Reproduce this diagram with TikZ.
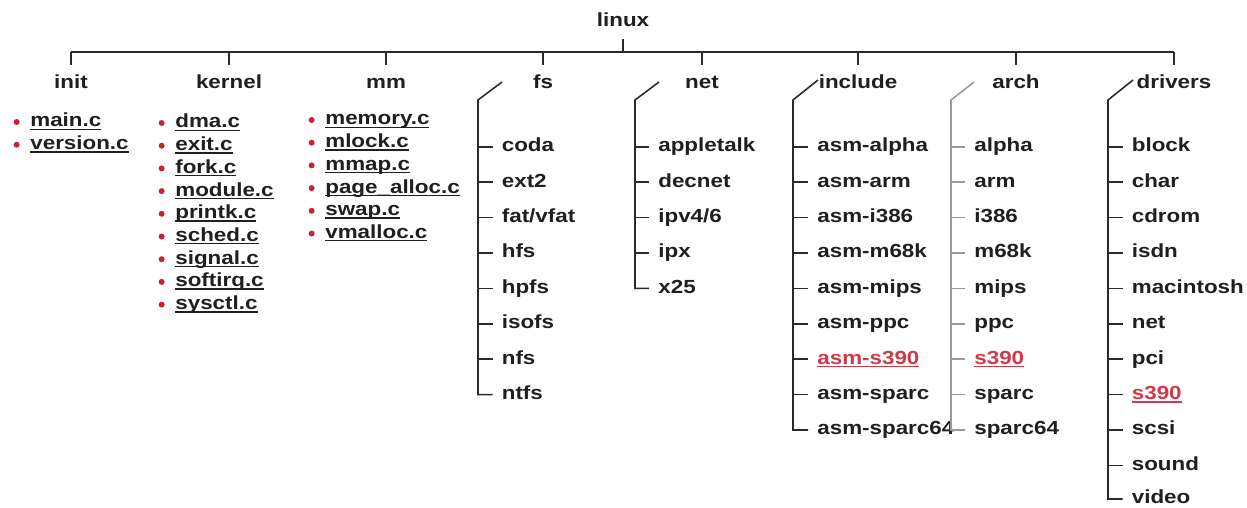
\documentclass[tikz,border=0pt]{standalone}
\usepackage{fontspec}
\setmainfont[FakeStretch=1.18]{Liberation Sans}
\usepackage{tikz}
\usepackage{xcolor}
\definecolor{dotred}{HTML}{CC2030}
\definecolor{linkred}{HTML}{D03A48}
\definecolor{treeline}{HTML}{2A2A2A}
\definecolor{archgray}{HTML}{9A9A9A}
\newcommand{\ulfile}[1]{\setbox0\hbox{#1}\rlap{\rule[-1.7pt]{\wd0}{0.8pt}}\box0}

\begin{document}
\begin{tikzpicture}[x=0.02cm,y=-0.02cm,font=\bfseries\fontsize{10.8pt}{13pt}\selectfont,text=black!88]
      \useasboundingbox (0,0) rectangle (1247,507);
      \tikzset{D/.style = {inner sep=0, text height=8pt, text depth=2.4pt}}
      \tikzset{B/.style = {circle, fill=dotred, inner sep=0, minimum size=3.4pt, xshift=-5.7pt}}
      \tikzset{F/.style = {D, anchor=west, label={[B]left:{}}}}
      \tikzset{S/.style = {D, anchor=west}}
      \tikzset{T/.style = {draw=treeline, line width=0.9pt}}
      \tikzset{G/.style = {draw=archgray, line width=0.9pt}}
      \tikzset{R/.style = {text=linkred}}
      % top level
      \node[D](linux) at (623,22) {linux};
      \node[D](init) at (71,83.5) {init};
      \node[D](kernel) at (229,83.5) {kernel};
      \node[D](mm) at (386,83.5) {mm};
      \node[D](fs) at (543,83.5) {fs};
      \node[D](net) at (702,83.5) {net};
      \node[D](include) at (858,83.5) {include};
      \node[D](arch) at (1016,83.5) {arch};
      \node[D](drivers) at (1174,83.5) {drivers};
      \coordinate (busl) at (71,52);
      \coordinate (busr) at (1174,52);
      \draw[T] (busl) -- (busr);
      \draw[T] ([yshift=-4.5pt]linux.south) -- (linux.south |- busl);
      \draw[T] (init.north |- busl) -- ([yshift=5.3pt]init.north);
      \draw[T] (kernel.north |- busl) -- ([yshift=5.3pt]kernel.north);
      \draw[T] (mm.north |- busl) -- ([yshift=5.3pt]mm.north);
      \draw[T] (fs.north |- busl) -- ([yshift=5.3pt]fs.north);
      \draw[T] (net.north |- busl) -- ([yshift=5.3pt]net.north);
      \draw[T] (include.north |- busl) -- ([yshift=5.3pt]include.north);
      \draw[T] (arch.north |- busl) -- ([yshift=5.3pt]arch.north);
      \draw[T] (drivers.north |- busl) -- ([yshift=5.3pt]drivers.north);
      % init
      \node[F](mainc) at (30,122) {\ulfile{main.c}};
      \node[F](versionc) at (30,144.7) {\ulfile{version.c}};
      % kernel
      \node[F](dmac) at (175,123) {\ulfile{dma.c}};
      \node[F](exitc) at (175,145.7) {\ulfile{exit.c}};
      \node[F](forkc) at (175,168.4) {\ulfile{fork.c}};
      \node[F](modulec) at (175,191.1) {\ulfile{module.c}};
      \node[F](printkc) at (175,213.8) {\ulfile{printk.c}};
      \node[F](schedc) at (175,236.5) {\ulfile{sched.c}};
      \node[F](signalc) at (175,259.2) {\ulfile{signal.c}};
      \node[F](softirqc) at (175,281.9) {\ulfile{softirq.c}};
      \node[F](sysctlc) at (175,304.6) {\ulfile{sysctl.c}};
      % mm
      \node[F](memoryc) at (325,120) {\ulfile{memory.c}};
      \node[F](mlockc) at (325,142.7) {\ulfile{mlock.c}};
      \node[F](mmapc) at (325,165.4) {\ulfile{mmap.c}};
      \node[F](pageallocc) at (325,188.1) {\ulfile{page\_alloc.c}};
      \node[F](swapc) at (325,210.8) {\ulfile{swap.c}};
      \node[F](vmallocc) at (325,233.5) {\ulfile{vmalloc.c}};
      % fs
      \node[S](coda) at (501.5,146.8) {coda};
      \node[S](ext2) at (501.5,182.2) {ext2};
      \node[S](fat) at (501.5,217.6) {fat/vfat};
      \node[S](hfs) at (501.5,253) {hfs};
      \node[S](hpfs) at (501.5,288.4) {hpfs};
      \node[S](isofs) at (501.5,323.8) {isofs};
      \node[S](nfs) at (501.5,359.2) {nfs};
      \node[S](ntfs) at (501.5,394.6) {ntfs};
      \coordinate (fstop) at (502,82);
      \coordinate (fsk) at (478,100);
      \draw[T] (fstop) -- (fsk) |- ([xshift=-5.1pt]ntfs.west);
      \draw[T] (coda.west -| fsk) -- ([xshift=-5.1pt]coda.west);
      \draw[T] (ext2.west -| fsk) -- ([xshift=-5.1pt]ext2.west);
      \draw[T] (fat.west -| fsk) -- ([xshift=-5.1pt]fat.west);
      \draw[T] (hfs.west -| fsk) -- ([xshift=-5.1pt]hfs.west);
      \draw[T] (hpfs.west -| fsk) -- ([xshift=-5.1pt]hpfs.west);
      \draw[T] (isofs.west -| fsk) -- ([xshift=-5.1pt]isofs.west);
      \draw[T] (nfs.west -| fsk) -- ([xshift=-5.1pt]nfs.west);
      % net
      \node[S](appletalk) at (658,146.8) {appletalk};
      \node[S](decnet) at (658,182.2) {decnet};
      \node[S](ipv) at (658,217.6) {ipv4/6};
      \node[S](ipx) at (658,253) {ipx};
      \node[S](x25) at (658,288.4) {x25};
      \coordinate (nettop) at (659,82);
      \coordinate (netk) at (635,100);
      \draw[T] (nettop) -- (netk) |- ([xshift=-5.1pt]x25.west);
      \draw[T] (appletalk.west -| netk) -- ([xshift=-5.1pt]appletalk.west);
      \draw[T] (decnet.west -| netk) -- ([xshift=-5.1pt]decnet.west);
      \draw[T] (ipv.west -| netk) -- ([xshift=-5.1pt]ipv.west);
      \draw[T] (ipx.west -| netk) -- ([xshift=-5.1pt]ipx.west);
      % include
      \node[S](ialpha) at (817,146.8) {asm-alpha};
      \node[S](iarm) at (817,182.2) {asm-arm};
      \node[S](ii386) at (817,217.6) {asm-i386};
      \node[S](im68k) at (817,253) {asm-m68k};
      \node[S](imips) at (817,288.4) {asm-mips};
      \node[S](ippc) at (817,323.8) {asm-ppc};
      \node[S,R](is390) at (817,359.2) {\ulfile{asm-s390}};
      \node[S](isparc) at (817,394.6) {asm-sparc};
      \node[S](isparc64) at (817,430) {asm-sparc64};
      \coordinate (inctop) at (818,80);
      \coordinate (inck) at (793,100);
      \draw[T] (inctop) -- (inck) |- ([xshift=-5.1pt]isparc64.west);
      \draw[T] (ialpha.west -| inck) -- ([xshift=-5.1pt]ialpha.west);
      \draw[T] (iarm.west -| inck) -- ([xshift=-5.1pt]iarm.west);
      \draw[T] (ii386.west -| inck) -- ([xshift=-5.1pt]ii386.west);
      \draw[T] (im68k.west -| inck) -- ([xshift=-5.1pt]im68k.west);
      \draw[T] (imips.west -| inck) -- ([xshift=-5.1pt]imips.west);
      \draw[T] (ippc.west -| inck) -- ([xshift=-5.1pt]ippc.west);
      \draw[T] (is390.west -| inck) -- ([xshift=-5.1pt]is390.west);
      \draw[T] (isparc.west -| inck) -- ([xshift=-5.1pt]isparc.west);
      % arch
      \node[S](aalpha) at (974,146.8) {alpha};
      \node[S](aarm) at (974,182.2) {arm};
      \node[S](ai386) at (974,217.6) {i386};
      \node[S](am68k) at (974,253) {m68k};
      \node[S](amips) at (974,288.4) {mips};
      \node[S](appc) at (974,323.8) {ppc};
      \node[S,R](as390) at (974,359.2) {\ulfile{s390}};
      \node[S](asparc) at (974,394.6) {sparc};
      \node[S](asparc64) at (974,430) {sparc64};
      \coordinate (archtop) at (974,82);
      \coordinate (archk) at (951,100);
      \draw[G] (archtop) -- (archk) |- ([xshift=-5.1pt]asparc64.west);
      \draw[G] (aalpha.west -| archk) -- ([xshift=-5.1pt]aalpha.west);
      \draw[G] (aarm.west -| archk) -- ([xshift=-5.1pt]aarm.west);
      \draw[G] (ai386.west -| archk) -- ([xshift=-5.1pt]ai386.west);
      \draw[G] (am68k.west -| archk) -- ([xshift=-5.1pt]am68k.west);
      \draw[G] (amips.west -| archk) -- ([xshift=-5.1pt]amips.west);
      \draw[G] (appc.west -| archk) -- ([xshift=-5.1pt]appc.west);
      \draw[G] (as390.west -| archk) -- ([xshift=-5.1pt]as390.west);
      \draw[G] (asparc.west -| archk) -- ([xshift=-5.1pt]asparc.west);
      % drivers
      \node[S](block) at (1131.5,146.8) {block};
      \node[S](char) at (1131.5,182.2) {char};
      \node[S](cdrom) at (1131.5,217.6) {cdrom};
      \node[S](isdn) at (1131.5,253) {isdn};
      \node[S](mac) at (1131.5,288.4) {macintosh};
      \node[S](dnet) at (1131.5,323.8) {net};
      \node[S](pci) at (1131.5,359.2) {pci};
      \node[S,R](ds390) at (1131.5,394.6) {\ulfile{s390}};
      \node[S](scsi) at (1131.5,430) {scsi};
      \node[S](sound) at (1131.5,465.4) {sound};
      \node[S](video) at (1131.5,499) {video};
      \coordinate (drvtop) at (1133,80);
      \coordinate (drvk) at (1108,100);
      \draw[T] (drvtop) -- (drvk) |- ([xshift=-5.1pt]video.west);
      \draw[T] (block.west -| drvk) -- ([xshift=-5.1pt]block.west);
      \draw[T] (char.west -| drvk) -- ([xshift=-5.1pt]char.west);
      \draw[T] (cdrom.west -| drvk) -- ([xshift=-5.1pt]cdrom.west);
      \draw[T] (isdn.west -| drvk) -- ([xshift=-5.1pt]isdn.west);
      \draw[T] (mac.west -| drvk) -- ([xshift=-5.1pt]mac.west);
      \draw[T] (dnet.west -| drvk) -- ([xshift=-5.1pt]dnet.west);
      \draw[T] (pci.west -| drvk) -- ([xshift=-5.1pt]pci.west);
      \draw[T] (ds390.west -| drvk) -- ([xshift=-5.1pt]ds390.west);
      \draw[T] (scsi.west -| drvk) -- ([xshift=-5.1pt]scsi.west);
      \draw[T] (sound.west -| drvk) -- ([xshift=-5.1pt]sound.west);
    \end{tikzpicture}
\end{document}
